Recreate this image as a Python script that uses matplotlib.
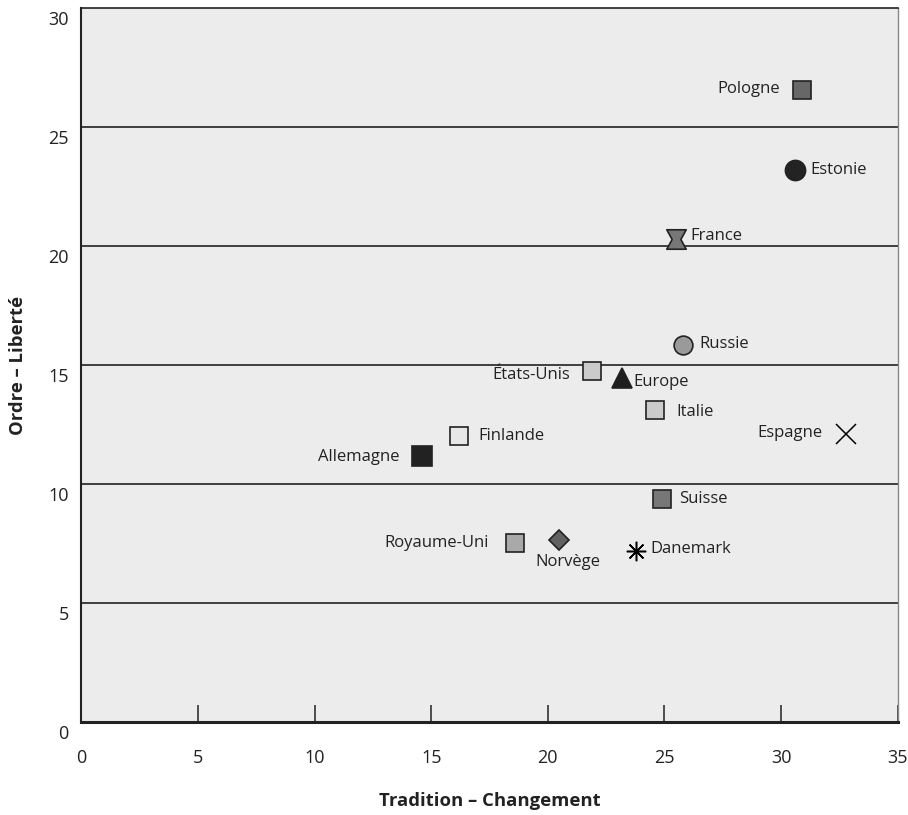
import matplotlib
matplotlib.use('Agg')
import matplotlib.pyplot as plt
import matplotlib.transforms as mtransforms
from matplotlib.path import Path

plt.rcParams['font.family'] = ['Open Sans', 'DejaVu Sans']

# data
countries = ['Pologne', 'Estonie', 'France', 'Russie', 'États-Unis', 'Europe',
             'Italie', 'Espagne', 'Finlande', 'Allemagne', 'Suisse',
             'Royaume-Uni', 'Norvège', 'Danemark']
tradition = [30.9, 30.6, 25.5, 25.8, 21.9, 23.2, 24.6, 32.8, 16.2, 14.6, 24.9, 18.6, 20.5, 23.8]
ordre = [26.55, 23.2, 20.3, 15.85, 14.75, 14.45, 13.1, 12.1, 12.05, 11.2, 9.4, 7.55, 7.65, 7.2]

xticks = [0, 5, 10, 15, 20, 25, 30, 35]
yticks = [0, 5, 10, 15, 20, 25, 30]

hourglass = Path([(-1, 1), (1, 1), (0.45, 0), (1, -1), (-1, -1), (-0.45, 0), (-1, 1)],
                 [Path.MOVETO] + [Path.LINETO] * 5 + [Path.CLOSEPOLY])

# marker, size, face colour, label offset (px), ha
style = {
    'Pologne':     ('s', 13.5, '#676767', (-22, 1), 'right'),
    'Estonie':     ('o', 14.5, '#232323', (15, 0), 'left'),
    'France':      (hourglass, 14, '#777777', (14, 3), 'left'),
    'Russie':      ('o', 13.5, '#9a9a9a', (16, 1), 'left'),
    'États-Unis':  ('s', 13.5, '#cbcbcb', (-22, -4), 'right'),
    'Europe':      ('^', 14, '#1e1e1e', (11, -4), 'left'),
    'Italie':      ('s', 13.5, '#cbcbcb', (21, -2), 'left'),
    'Espagne':     ('x', 14, '#000000', (-24, 1), 'right'),
    'Finlande':    ('s', 13.5, '#e6e6e6', (19, 0), 'left'),
    'Allemagne':   ('s', 14, '#222222', (-22, -1), 'right'),
    'Suisse':      ('s', 13.5, '#777777', (17, 0), 'left'),
    'Royaume-Uni': ('s', 13.5, '#a9a9a9', (-26, 0), 'right'),
    'Norvège':     ('D', 10, '#626262', (8, -22), 'center'),
    'Danemark':    ((8, 2, 0), 14, '#000000', (14, 2), 'left'),
}

fig = plt.figure(figsize=(9.08, 8.15), dpi=100)
ax = fig.add_axes([0.0895, 0.1135, 0.8992, 0.8767])
ax.set_facecolor('#ececec')

for y in yticks[1:-1]:
    ax.axhline(y, color='#222222', lw=1.2, zorder=1)

for name, x, y in zip(countries, tradition, ordre):
    m, ms, fc, off, ha = style[name]
    if name in ('Espagne', 'Danemark'):
        ax.plot(x, y, marker=m, ms=ms, color='black', mew=1.1, ls='none', zorder=3)
    else:
        ax.plot(x, y, marker=m, ms=ms, mfc=fc, mec='#222222', mew=1.2, ls='none', zorder=3)
    ax.annotate(name, (x, y), xytext=off, textcoords='offset pixels',
                ha=ha, va='center', fontsize=12, color='#222222', zorder=4)

ax.set_xlim(0, 35)
ax.set_ylim(0, 30)
ax.set_xticks(xticks)
ax.set_yticks(yticks)
ax.tick_params(axis='x', direction='in', length=12.5, width=1.2, color='#333333',
               pad=19, labelsize=13, labelcolor='#222222')
ax.tick_params(axis='y', length=0, pad=9, labelsize=13, labelcolor='#222222')

# y tick labels sit a little below their gridline
shift = mtransforms.ScaledTranslation(0, -10 / 100, fig.dpi_scale_trans)
for lab in ax.get_yticklabels():
    lab.set_transform(lab.get_transform() + shift)

ax.spines['left'].set_linewidth(1.5)
ax.spines['left'].set_color('#222222')
ax.spines['bottom'].set_linewidth(2.2)
ax.spines['bottom'].set_color('#222222')
ax.spines['top'].set_linewidth(1.2)
ax.spines['top'].set_color('#222222')
ax.spines['right'].set_linewidth(1)
ax.spines['right'].set_color('#888888')

ax.set_xlabel('Tradition – Changement', fontsize=13.3, fontweight='bold', color='#222222')
ax.set_ylabel('Ordre – Liberté', fontsize=13.3, fontweight='bold', color='#222222')
ax.xaxis.set_label_coords(0.5, -0.097)
ax.yaxis.set_label_coords(-0.066, 0.5)

fig.savefig('out.png', dpi=100)
